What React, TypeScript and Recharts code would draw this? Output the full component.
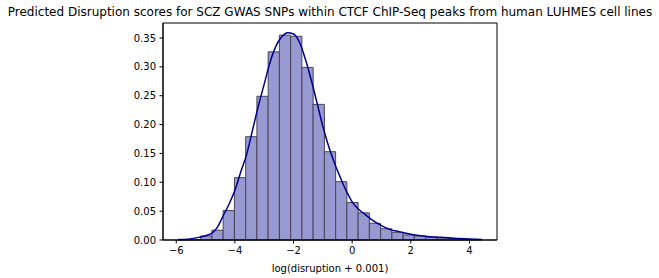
import React from 'react';
import { ComposedChart, Line, XAxis, YAxis, ReferenceArea } from 'recharts';

const binStart = -5.934;
const binWidth = 0.3836;
const binDensities = [
  0.0005, 0.001, 0.007, 0.017, 0.051, 0.108, 0.179, 0.249, 0.326, 0.355,
  0.353, 0.299, 0.235, 0.153, 0.101, 0.065, 0.047, 0.029, 0.0195, 0.0133,
  0.0088, 0.007, 0.0048, 0.0035, 0.0024, 0.0016, 0.0009,
];

const kdeX = [
  -5.93, -5.6, -5.2, -4.9, -4.78, -4.6, -4.4, -4.2, -4.0, -3.8, -3.6, -3.4,
  -3.2, -3.0, -2.8, -2.6, -2.4, -2.2, -2.0, -1.8, -1.6, -1.4, -1.2, -1.0,
  -0.8, -0.6, -0.4, -0.2, 0.0, 0.2, 0.4, 0.7, 1.0, 1.3, 1.6, 2.0, 2.5, 3.0,
  3.5, 4.0, 4.42,
];
const kdeY = [
  0.0008, 0.0015, 0.005, 0.009, 0.012, 0.022, 0.042, 0.062, 0.086, 0.118,
  0.148, 0.19, 0.232, 0.27, 0.308, 0.336, 0.352, 0.359, 0.357, 0.343, 0.314,
  0.278, 0.238, 0.197, 0.162, 0.133, 0.108, 0.085, 0.066, 0.054, 0.046,
  0.034, 0.025, 0.018, 0.0145, 0.01, 0.0067, 0.0047, 0.003, 0.0018, 0.001,
];

const xDomain = [-6.452, 4.941];
const yDomain = [0, 0.376];
const xTicks = [-6, -4, -2, 0, 2, 4];
const yTicks = [0, 0.05, 0.1, 0.15, 0.2, 0.25, 0.3, 0.35];

const title =
  'Predicted Disruption scores for SCZ GWAS SNPs within CTCF ChIP-Seq peaks from human LUHMES cell lines';
const xLabel = 'log(disruption + 0.001)';

const kdeData = kdeX.map((x, i) => ({ x, y: kdeY[i] }));
const bins = binDensities.map((d, i) => ({
  x1: binStart + i * binWidth,
  x2: binStart + (i + 1) * binWidth,
  d,
}));

const font = 'DejaVu Sans';
const fmtX = (v: number) => (v < 0 ? '\u2212' + Math.abs(v) : String(v));
const fmtY = (v: number) => v.toFixed(2);

export default function App() {
  return (
    <div style={{ position: 'absolute', left: 0, top: 0, width: 659, height: 278, background: '#fff' }}>
      <div
        style={{
          position: 'absolute',
          left: 0,
          top: 4,
          width: 660,
          textAlign: 'center',
          fontFamily: font,
          fontSize: 12,
          lineHeight: '16px',
          color: '#000',
          whiteSpace: 'nowrap',
        }}
      >
        {title}
      </div>
      <ComposedChart
        width={659}
        height={278}
        margin={{ top: 23, right: 162, bottom: 0, left: 0 }}
        style={{ fontFamily: font }}
      >
        <XAxis
          dataKey="x"
          type="number"
          domain={xDomain}
          ticks={xTicks}
          allowDataOverflow
          tickFormatter={fmtX}
          height={38}
          tickSize={3.5}
          tickMargin={3.5}
          stroke="#000"
          tick={{ fill: '#000', fontSize: 10, fontFamily: font }}
          label={{ value: xLabel, position: 'insideBottom', offset: 6, fill: '#000', fontSize: 10, fontFamily: font }}
        />
        <YAxis
          type="number"
          domain={yDomain}
          ticks={yTicks}
          allowDataOverflow
          tickFormatter={fmtY}
          width={163}
          tickSize={3.5}
          tickMargin={3.5}
          stroke="#000"
          tick={{ fill: '#000', fontSize: 10, fontFamily: font }}
        />
        {bins.map((b, i) => (
          <ReferenceArea
            key={i}
            x1={b.x1}
            x2={b.x2}
            y1={0}
            y2={b.d}
            fill="#9999d1"
            fillOpacity={1}
            stroke="#45455a"
            strokeWidth={1}
            strokeOpacity={1}
          />
        ))}
        <ReferenceArea
          x1={xDomain[0]}
          x2={xDomain[1]}
          y1={yDomain[0]}
          y2={yDomain[1]}
          fill="none"
          stroke="#000"
          strokeWidth={1}
          strokeOpacity={1}
        />
        <Line
          data={kdeData}
          dataKey="y"
          type="monotone"
          stroke="#00008b"
          strokeWidth={1.5}
          dot={false}
          activeDot={false}
          isAnimationActive={false}
        />
      </ComposedChart>
    </div>
  );
}
